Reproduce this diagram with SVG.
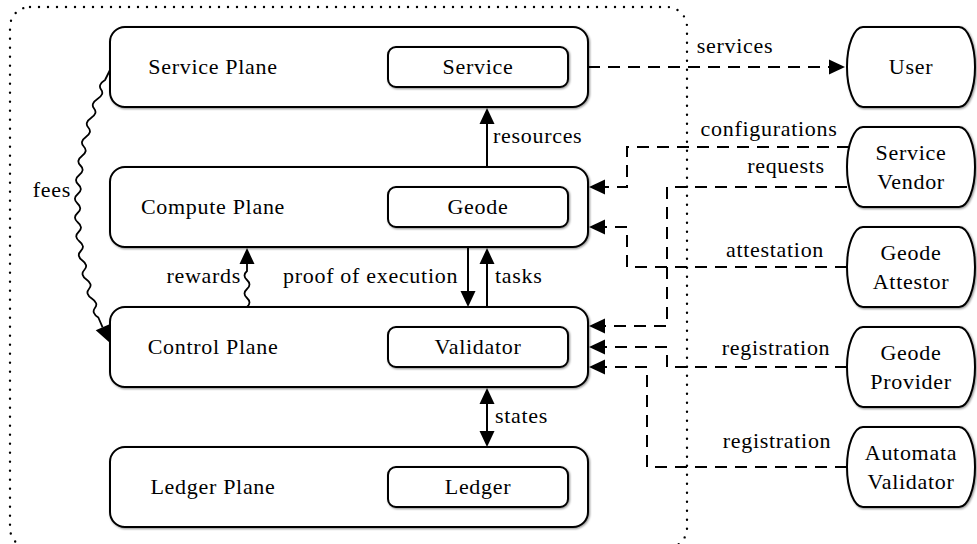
<svg xmlns="http://www.w3.org/2000/svg" width="977" height="544" viewBox="0 0 977 544">
  <style>
    text { font-size: 22px; fill: #000; letter-spacing: 0.7px; }
    .mid { text-anchor: middle; }
    .end { text-anchor: end; }
    .plane { fill: #fff; stroke: #000; stroke-width: 2; filter: url(#shadow); }
    .inner { fill: #fff; stroke: #000; stroke-width: 2; filter: url(#shadow); }
    .actor { fill: #fff; stroke: #000; stroke-width: 2; filter: url(#shadow); }
    .solid { fill: none; stroke: #000; stroke-width: 2; }
    .dash { fill: none; stroke: #000; stroke-width: 2; stroke-dasharray: 12 8; }
    .wavy { fill: none; stroke: #000; stroke-width: 1.8; }
    .frame { fill: none; stroke: #000; stroke-width: 2.4; stroke-dasharray: 0 9; stroke-linecap: round; }
  </style>
  <defs>
    <filter id="shadow" x="-10%" y="-20%" width="120%" height="140%">
      <feDropShadow dx="1" dy="1" stdDeviation="1.3" flood-color="#000" flood-opacity="0.45"/>
    </filter>
    <marker id="tip" markerUnits="userSpaceOnUse" markerWidth="17" markerHeight="16" refX="0" refY="7.5" orient="auto-start-reverse" overflow="visible">
      <path d="M0,0 L16,7.5 L0,15 Z" fill="#000"/>
    </marker>
  </defs>

  <g font-family="Liberation Serif">
  <!-- enclosing dotted frame -->
  <rect class="frame" x="10" y="7" width="677" height="541" rx="20" ry="20"/>

  <!-- planes -->
  <g id="service-plane">
    <rect class="plane" x="110" y="27" width="478" height="80" rx="15"/>
    <text class="mid" x="213" y="74">Service Plane</text>
    <g id="service">
      <rect class="inner" x="388" y="47" width="180" height="40" rx="8"/>
      <text class="mid" x="478" y="74">Service</text>
    </g>
  </g>
  <g id="compute-plane">
    <rect class="plane" x="110" y="167" width="478" height="80" rx="15"/>
    <text class="mid" x="213" y="214">Compute Plane</text>
    <g id="geode">
      <rect class="inner" x="388" y="187" width="180" height="40" rx="8"/>
      <text class="mid" x="478" y="214">Geode</text>
    </g>
  </g>
  <g id="control-plane">
    <rect class="plane" x="110" y="307" width="478" height="80" rx="15"/>
    <text class="mid" x="213" y="354">Control Plane</text>
    <g id="validator">
      <rect class="inner" x="388" y="327" width="180" height="40" rx="8"/>
      <text class="mid" x="478" y="354">Validator</text>
    </g>
  </g>
  <g id="ledger-plane">
    <rect class="plane" x="110" y="447" width="478" height="80" rx="15"/>
    <text class="mid" x="213" y="494">Ledger Plane</text>
    <g id="ledger">
      <rect class="inner" x="388" y="467" width="180" height="40" rx="8"/>
      <text class="mid" x="478" y="494">Ledger</text>
    </g>
  </g>

  <!-- external actors -->
  <g id="user">
    <path class="actor" d="M863,27 L959,27 A16 40 0 0 1 959,107 L863,107 A16 40 0 0 1 863,27 Z"/>
    <text class="mid" x="911" y="74">User</text>
  </g>
  <g id="service-vendor">
    <path class="actor" d="M863,127 L959,127 A16 40 0 0 1 959,207 L863,207 A16 40 0 0 1 863,127 Z"/>
    <text class="mid" x="911" y="160">Service</text>
    <text class="mid" x="911" y="189">Vendor</text>
  </g>
  <g id="geode-attestor">
    <path class="actor" d="M863,227 L959,227 A16 40 0 0 1 959,307 L863,307 A16 40 0 0 1 863,227 Z"/>
    <text class="mid" x="911" y="260">Geode</text>
    <text class="mid" x="911" y="289">Attestor</text>
  </g>
  <g id="geode-provider">
    <path class="actor" d="M863,327 L959,327 A16 40 0 0 1 959,407 L863,407 A16 40 0 0 1 863,327 Z"/>
    <text class="mid" x="911" y="360">Geode</text>
    <text class="mid" x="911" y="389">Provider</text>
  </g>
  <g id="automata-validator">
    <path class="actor" d="M863,427 L959,427 A16 40 0 0 1 959,507 L863,507 A16 40 0 0 1 863,427 Z"/>
    <text class="mid" x="911" y="460">Automata</text>
    <text class="mid" x="911" y="489">Validator</text>
  </g>

  <!-- connectors -->
  <g id="connectors">
    <!-- vertical flows between planes -->
    <path class="solid" d="M487,167 L487,124" marker-end="url(#tip)"/>
    <path class="solid" d="M468,247 L468,291" marker-end="url(#tip)"/>
    <path class="solid" d="M487,307 L487,264" marker-end="url(#tip)"/>
    <path class="solid" d="M487,404 L487,431" marker-start="url(#tip)" marker-end="url(#tip)"/>

    <!-- rewards (snake) -->
    <path class="wavy" d="M247,307 Q252,302.5 247,298 Q242,293.5 247,289 Q252,284.5 247,280 Q242,275.5 247,271 L247,264" marker-end="url(#tip)"/>

    <!-- fees (snake along a bent path) -->
    <path class="wavy" d="M110,70 L105.02,80 Q97.54,84.75 101.06,89.5 Q104.74,94.25 97.41,99 Q90.24,103.75 94.06,108.5 Q98.04,113.25 91.02,118 Q84.16,122.75 88.29,127.5 Q92.58,132.25 85.86,137 Q79.31,141.75 83.75,146.5 Q88.35,151.25 81.94,156 Q75.69,160.75 80.44,165.5 Q85.35,170.25 79.25,175 Q73.31,179.75 78.36,184.5 Q83.58,189.25 77.79,194 Q72.16,198.75 77.52,203.5 Q83.04,208.25 77.56,213 Q72.24,217.75 77.91,222.5 Q83.74,227.25 78.57,232 Q73.55,236.75 79.53,241.5 Q85.67,246.25 80.80,251 Q76.09,255.75 82.38,260.5 Q88.83,265.25 84.27,270 Q79.87,274.75 86.47,279.5 Q93.22,284.25 88.97,289 Q84.88,293.75 91.79,298.5 Q98.85,303.25 94.91,308 Q91.13,312.75 98.34,317.5 L102.6,327.3" marker-end="url(#tip)"/>

    <!-- dashed links with external actors -->
    <path class="dash" d="M588,67 L829,67" marker-end="url(#tip)"/>
    <path class="dash" d="M849,147 L627,147 L627,187 L605,187" marker-end="url(#tip)"/>
    <path class="dash" d="M847,187 L667,187 L667,326 L605,326" marker-end="url(#tip)"/>
    <path class="dash" d="M847,267 L627,267 L627,227 L605,227" marker-end="url(#tip)"/>
    <path class="dash" d="M847,367 L667,367 L667,347 L605,347" marker-end="url(#tip)"/>
    <path class="dash" d="M847,467 L647,467 L647,367 L605,367" marker-end="url(#tip)"/>

    <!-- connector labels -->
    <text class="mid" x="735" y="53">services</text>
    <text x="493" y="143">resources</text>
    <text class="end" x="241" y="283">rewards</text>
    <text x="283" y="283">proof of execution</text>
    <text x="495" y="283">tasks</text>
    <text x="495" y="423">states</text>
    <text class="end" x="71" y="197">fees</text>
    <text class="mid" x="769" y="136">configurations</text>
    <text class="mid" x="786" y="173">requests</text>
    <text class="mid" x="775" y="257">attestation</text>
    <text class="mid" x="776" y="355">registration</text>
    <text class="mid" x="777" y="448">registration</text>
  </g>
  </g>
</svg>
